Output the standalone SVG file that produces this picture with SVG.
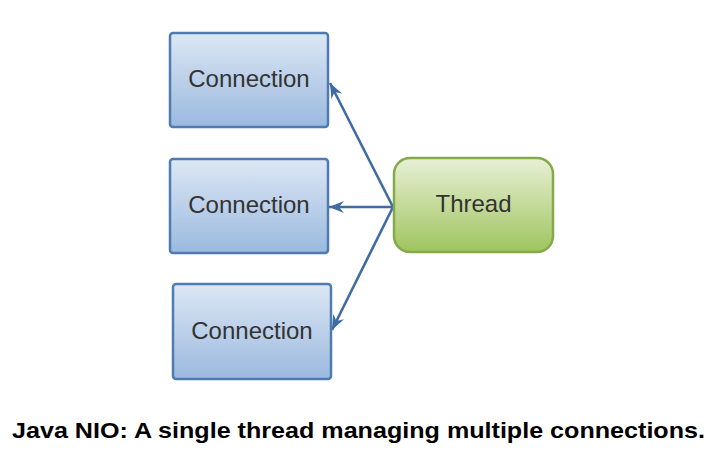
<svg xmlns="http://www.w3.org/2000/svg" width="717" height="475" viewBox="0 0 717 475">
  <style>
    .conn rect { fill: url(#blueGrad); stroke: #4f7bb0; stroke-width: 2.5; }
    .thread rect { fill: url(#greenGrad); stroke: #84aa4a; stroke-width: 2.5; }
    .label { font-family: "Liberation Sans", Arial, sans-serif; font-size: 24px; fill: #333333; text-anchor: middle; }
    .edge { stroke: #3f6ca4; stroke-width: 2.6; fill: none; marker-end: url(#arrow); }
    .caption { font-family: "Liberation Sans", Arial, sans-serif; font-size: 21.5px; font-weight: bold; fill: #000000; }
  </style>
  <defs>
    <linearGradient id="blueGrad" x1="0" y1="0" x2="0" y2="1">
      <stop offset="0" stop-color="#dce7f4"/>
      <stop offset="1" stop-color="#9bb9df"/>
    </linearGradient>
    <linearGradient id="greenGrad" x1="0" y1="0" x2="0" y2="1">
      <stop offset="0" stop-color="#e8f0d6"/>
      <stop offset="1" stop-color="#9fc45e"/>
    </linearGradient>
    <marker id="arrow" viewBox="0 0 15 12" refX="15" refY="6" markerWidth="15" markerHeight="12" markerUnits="userSpaceOnUse" orient="auto">
      <path d="M15,6 L0,0 L5,6 L0,12 Z" fill="#3f6ca4"/>
    </marker>
  </defs>
  <rect width="717" height="475" fill="#ffffff"/>
  <g id="connectors">
    <line class="edge" x1="393" y1="207" x2="330" y2="83"/>
    <line class="edge" x1="393" y1="207" x2="329" y2="207"/>
    <line class="edge" x1="393" y1="207" x2="332" y2="330"/>
  </g>
  <g id="connection1" class="conn">
    <rect x="170" y="33" width="158" height="94" rx="3"/>
    <text class="label" x="249" y="87">Connection</text>
  </g>
  <g id="connection2" class="conn">
    <rect x="170" y="159" width="158" height="94" rx="3"/>
    <text class="label" x="249" y="213">Connection</text>
  </g>
  <g id="connection3" class="conn">
    <rect x="173" y="284" width="158" height="95" rx="3"/>
    <text class="label" x="252" y="339">Connection</text>
  </g>
  <g id="thread" class="thread">
    <rect x="394" y="158" width="159" height="94" rx="16"/>
    <text class="label" x="473.5" y="212">Thread</text>
  </g>
  <text class="caption" x="12" y="438" textLength="693" lengthAdjust="spacingAndGlyphs">Java NIO: A single thread managing multiple connections.</text>
</svg>
